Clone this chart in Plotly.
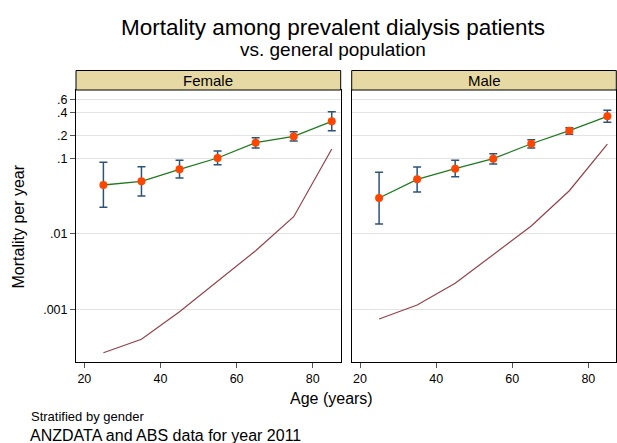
import plotly.graph_objects as go

ages = [25, 35, 45, 55, 65, 75, 85]

female_rate = [0.0443, 0.0496, 0.0715, 0.101, 0.161, 0.195, 0.309]
female_upper = [0.0885, 0.0774, 0.094, 0.125, 0.1875, 0.225, 0.414]
female_lower = [0.0224, 0.0316, 0.0548, 0.0822, 0.137, 0.169, 0.232]
female_pop = [0.000266, 0.000401, 0.000931, 0.00239, 0.00597, 0.01687, 0.1327]

male_rate = [0.0298, 0.0527, 0.0729, 0.0988, 0.156, 0.232, 0.360]
male_upper = [0.0652, 0.0767, 0.094, 0.115, 0.176, 0.254, 0.432]
male_lower = [0.01349, 0.0358, 0.0571, 0.084, 0.137, 0.208, 0.300]
male_pop = [0.000744, 0.00114, 0.00221, 0.00535, 0.01268, 0.0372, 0.1545]

panels = ["Female", "Male"]
y_tickvals = [0.001, 0.01, 0.1, 0.2, 0.4, 0.6]
y_ticktext = [".001", ".01", ".1", ".2", ".4", ".6"]
x_tickvals = [20, 40, 60, 80]

W, H = 617, 443
FONT = "Liberation Sans, Arial, sans-serif"

def px_x(p):
    return p / W

def px_y(p):
    return (H - p) / H

dom_f = [px_x(76), px_x(340.7)]
dom_m = [px_x(351.7), px_x(616.3)]
y_dom = [px_y(361.7), px_y(90)]
hdr_top = px_y(70.5)

fig = go.Figure()

GREEN = "#1f7a1f"
MAROON = "#93424a"
NAVY = "#2c5378"
ORANGE = "#ff4500"

data = [
    (female_rate, female_upper, female_lower, female_pop, "x", "y"),
    (male_rate, male_upper, male_lower, male_pop, "x2", "y2"),
]
for rate, up, lo, pop, xa, ya in data:
    fig.add_trace(go.Scatter(x=ages, y=pop, mode="lines", line=dict(color=MAROON, width=1.2),
                             xaxis=xa, yaxis=ya, showlegend=False, hoverinfo="skip"))
    fig.add_trace(go.Scatter(x=ages, y=rate, mode="lines", line=dict(color=GREEN, width=1.3),
                             xaxis=xa, yaxis=ya, showlegend=False, hoverinfo="skip"))
    fig.add_trace(go.Scatter(
        x=ages, y=rate, mode="markers",
        marker=dict(color=ORANGE, size=8, line=dict(width=0)),
        error_y=dict(type="data", symmetric=False,
                     array=[u - r for u, r in zip(up, rate)],
                     arrayminus=[r - l for r, l in zip(rate, lo)],
                     color=NAVY, thickness=1.5, width=4),
        xaxis=xa, yaxis=ya, showlegend=False))

axis_common = dict(
    range=[17.8, 87.35], tickvals=x_tickvals, ticks="outside", ticklen=5, tickwidth=1,
    tickcolor="#555555", showgrid=False, zeroline=False, showline=True, linecolor="black",
    linewidth=1, mirror=True, tickfont=dict(family=FONT, size=12.5, color="black"),
)
yaxis_common = dict(
    type="log", range=[-3.694, -0.095], tickvals=y_tickvals, ticktext=y_ticktext,
    showgrid=True, gridcolor="#e3e3e3", gridwidth=1, zeroline=False, showline=True,
    linecolor="black", linewidth=1, mirror=True, domain=y_dom,
    tickfont=dict(family=FONT, size=12.5, color="black"),
)

fig.update_layout(
    width=W, height=H, margin=dict(l=0, r=0, t=0, b=0),
    paper_bgcolor="white", plot_bgcolor="white",
    xaxis=dict(domain=dom_f, anchor="y", **axis_common),
    xaxis2=dict(domain=dom_m, anchor="y2", **axis_common),
    yaxis=dict(anchor="x", ticks="outside", ticklen=5, tickcolor="#555555", **yaxis_common),
    yaxis2=dict(anchor="x2", ticks="", showticklabels=False, **yaxis_common),
    font=dict(family=FONT, color="black"),
)

shapes = []
annotations = []
for name, dom in zip(panels, [dom_f, dom_m]):
    shapes.append(dict(type="rect", xref="paper", yref="paper", x0=dom[0], x1=dom[1],
                       y0=y_dom[1], y1=hdr_top, fillcolor="#e6d9a3",
                       line=dict(color="black", width=1), layer="above"))
    annotations.append(dict(text=name, xref="paper", yref="paper", x=(dom[0] + dom[1]) / 2,
                            y=(y_dom[1] + hdr_top) / 2, showarrow=False,
                            font=dict(family=FONT, size=15, color="black"),
                            xanchor="center", yanchor="middle"))

annotations += [
    dict(text="Mortality among prevalent dialysis patients", xref="paper", yref="paper",
         x=px_x(333), y=px_y(28), showarrow=False, xanchor="center", yanchor="middle",
         font=dict(family=FONT, size=22.5, color="black")),
    dict(text="vs. general population", xref="paper", yref="paper",
         x=px_x(333), y=px_y(49.5), showarrow=False, xanchor="center", yanchor="middle",
         font=dict(family=FONT, size=19, color="black")),
    dict(text="Mortality per year", xref="paper", yref="paper",
         x=px_x(18.5), y=px_y(227), showarrow=False, xanchor="center", yanchor="middle",
         textangle=-90, font=dict(family=FONT, size=16, color="black")),
    dict(text="Age (years)", xref="paper", yref="paper",
         x=px_x(331), y=px_y(398), showarrow=False, xanchor="center", yanchor="middle",
         font=dict(family=FONT, size=16, color="black")),
    dict(text="Stratified by gender", xref="paper", yref="paper",
         x=px_x(29), y=px_y(416.5), showarrow=False, xanchor="left", yanchor="middle",
         font=dict(family=FONT, size=13, color="black")),
    dict(text="ANZDATA and ABS data for year 2011", xref="paper", yref="paper",
         x=px_x(28), y=px_y(435), showarrow=False, xanchor="left", yanchor="middle",
         font=dict(family=FONT, size=16, color="black")),
]
fig.update_layout(shapes=shapes, annotations=annotations)

fig.write_html("out.html", config={"displayModeBar": False},
               post_script="document.body.style.margin='0';document.body.style.overflow='hidden';")
